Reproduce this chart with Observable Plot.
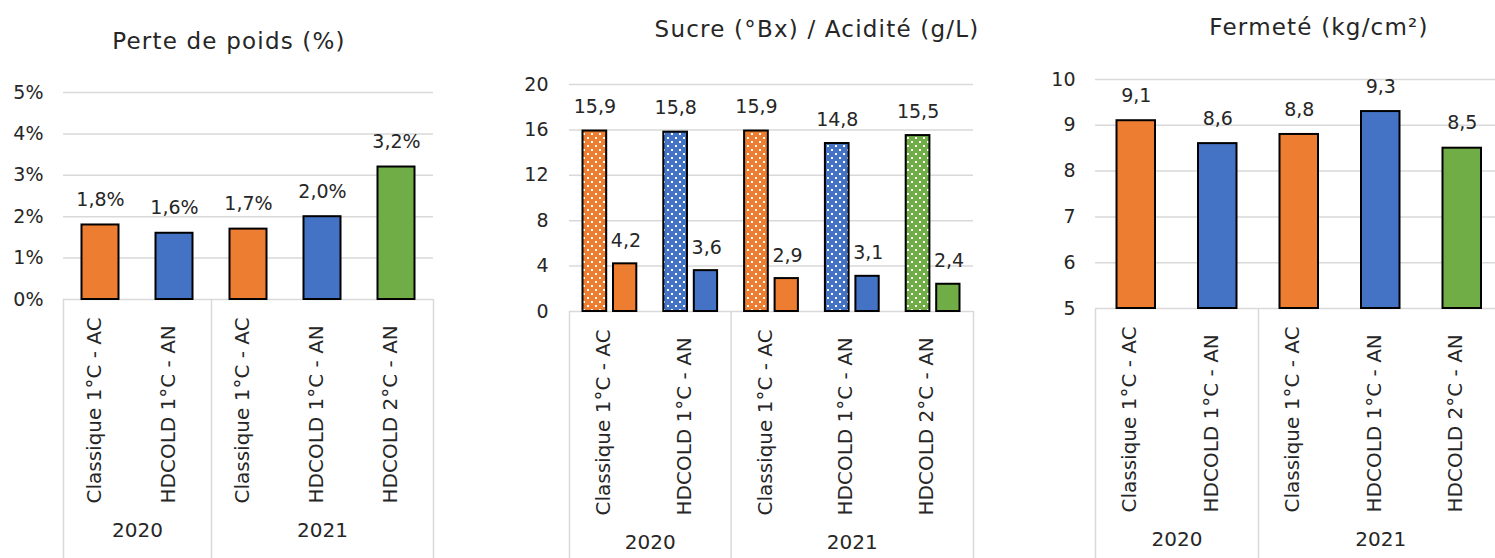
<!DOCTYPE html>
<html><head><meta charset="utf-8">
<script src="https://cdn.jsdelivr.net/npm/d3@7"></script>
<script src="https://cdn.jsdelivr.net/npm/@observablehq/plot@0.6"></script>
<style>
html,body{margin:0;padding:0;background:#fff;overflow:hidden;}
#root{position:relative;width:1495px;height:558px;overflow:hidden;font-family:"DejaVu Sans",sans-serif;color:#262626;}
.panel{position:absolute;top:0;}
.title{position:absolute;font-size:23px;line-height:1;letter-spacing:1.2px;white-space:nowrap;transform:translateX(-50%);}
</style></head><body><div id="root"></div>
<script>
// ---- data ----
const categories = ["Classique 1°C - AC","HDCOLD 1°C - AN","Classique 1°C - AC","HDCOLD 1°C - AN","HDCOLD 2°C - AN"];
const years = ["2020","2020","2021","2021","2021"];
const colors = ["#ED7D31","#4472C4","#ED7D31","#4472C4","#70AD47"];
const perteDePoids = [1.8, 1.6, 1.7, 2.0, 3.2];      // %
const sucre = [15.9, 15.8, 15.9, 14.8, 15.5];        // °Bx
const acidite = [4.2, 3.6, 2.9, 3.1, 2.4];           // g/L
const fermete = [9.1, 8.6, 8.8, 9.3, 8.5];           // kg/cm²
const ticksPerte = [0, 1, 2, 3, 4, 5];
const ticksSucre = [0, 4, 8, 12, 16, 20];
const ticksFermete = [5, 6, 7, 8, 9, 10];
const titles = ["Perte de poids (%)", "Sucre (°Bx) / Acidité (g/L)", "Fermeté (kg/cm²)"];

// ---- derived tables ----
const rows = categories.map((cat, i) => ({
  i, cat, year: years[i], color: colors[i],
  perte: perteDePoids[i], sucre: sucre[i], acid: acidite[i], ferm: fermete[i]
}));
const yearNames = [...new Set(years)];
const groups = yearNames.map(y => {
  const idx = rows.filter(r => r.year === y).map(r => r.i);
  return {year: y, first: d3.min(idx), last: d3.max(idx), center: (d3.min(idx) + d3.max(idx)) / 2};
});
const separators = [groups[0].first - 0.5, ...groups.map(g => g.last + 0.5)];
const comma = (v, d = 1) => v.toFixed(d).replace(".", ",");

const GRID = "#d9d9d9";
const FONT = "DejaVu Sans, sans-serif";

function xAxisMarks(plotH, marginBottom) {
  return [
    Plot.ruleX(separators, {x: d => d, insetTop: plotH, insetBottom: -marginBottom, stroke: GRID, strokeWidth: 1.5}),
    Plot.text(rows, {x: "i", text: "cat", frameAnchor: "bottom", rotate: -90, textAnchor: "start", dy: 204, fontSize: 20}),
    Plot.text(groups, {x: "center", text: "year", frameAnchor: "bottom", dy: 237, fontSize: 20})
  ];
}

function patternDefs() {
  const ns = "http://www.w3.org/2000/svg";
  const defs = document.createElementNS(ns, "defs");
  [...new Set(colors)].forEach(c => {
    const p = document.createElementNS(ns, "pattern");
    p.setAttribute("id", "dots" + c.slice(1));
    p.setAttribute("width", 8); p.setAttribute("height", 8);
    p.setAttribute("patternUnits", "userSpaceOnUse");
    const bg = document.createElementNS(ns, "rect");
    bg.setAttribute("width", 8); bg.setAttribute("height", 8); bg.setAttribute("fill", c);
    p.appendChild(bg);
    [[1,1],[5,5]].forEach(([x,y]) => {
      const r = document.createElementNS(ns, "rect");
      r.setAttribute("x", x); r.setAttribute("y", y);
      r.setAttribute("width", 2); r.setAttribute("height", 2); r.setAttribute("fill", "#fff");
      p.appendChild(r);
    });
    defs.appendChild(p);
  });
  return defs;
}

function place(svg, left) {
  svg.classList.add("panel");
  svg.style.left = left + "px";
  document.getElementById("root").appendChild(svg);
}

function addTitle(text, cx, top) {
  const d = document.createElement("div");
  d.className = "title";
  d.textContent = text;
  d.style.left = cx + "px";
  d.style.top = top + "px";
  document.getElementById("root").appendChild(d);
}

const H = 558;

// ---- Panel 1 : Perte de poids ----
{
  const m = {left: 63, right: 17, top: 92, bottom: 259};
  const plotH = H - m.top - m.bottom;
  const svg = Plot.plot({
    width: 450, height: H,
    marginLeft: m.left, marginRight: m.right, marginTop: m.top, marginBottom: m.bottom,
    style: {background: "transparent", fontFamily: FONT, fontSize: "19px", color: "#262626", overflow: "visible"},
    x: {type: "linear", domain: [-0.5, 4.5], axis: null},
    y: {domain: [0, 5], axis: null},
    color: {type: "identity"},
    marks: [
      Plot.ruleY(ticksPerte, {stroke: GRID, strokeWidth: 1.5}),
      Plot.axisY(ticksPerte, {tickSize: 0, tickPadding: 20, tickFormat: d => d + "%", fontSize: 19, label: null}),
      ...xAxisMarks(plotH, m.bottom),
      Plot.rectY(rows, {x1: d => d.i - 0.5, x2: d => d.i + 0.5, y1: () => 0, y2: "perte",
        insetLeft: 18.5, insetRight: 18.5, fill: "color", stroke: "black", strokeWidth: 2}),
      Plot.text(rows, {x: "i", y: "perte", text: d => comma(d.perte) + "%", dy: -25, fontSize: 19})
    ]
  });
  place(svg, 0);
  addTitle(titles[0], 229, 29.5);
}

// ---- Panel 2 : Sucre / Acidité ----
{
  const m = {left: 79, right: 17, top: 84, bottom: 247};
  const plotH = H - m.top - m.bottom;
  const svg = Plot.plot({
    width: 500, height: H,
    marginLeft: m.left, marginRight: m.right, marginTop: m.top, marginBottom: m.bottom,
    style: {background: "transparent", fontFamily: FONT, fontSize: "19px", color: "#262626", overflow: "visible"},
    x: {type: "linear", domain: [-0.5, 4.5], axis: null},
    y: {domain: [0, 20], axis: null},
    color: {type: "identity"},
    marks: [
      patternDefs,
      Plot.ruleY(ticksSucre, {stroke: GRID, strokeWidth: 1.5}),
      Plot.axisY(ticksSucre, {tickSize: 0, tickPadding: 21, fontSize: 19, label: null}),
      ...xAxisMarks(plotH, m.bottom),
      Plot.rectY(rows, {x1: d => d.i - 0.5, x2: d => d.i, y1: () => 0, y2: "sucre",
        insetLeft: 13.5, insetRight: 3.2, fill: d => `url(#dots${d.color.slice(1)})`, stroke: "black", strokeWidth: 2}),
      Plot.rectY(rows, {x1: d => d.i, x2: d => d.i + 0.5, y1: () => 0, y2: "acid",
        insetLeft: 3.6, insetRight: 13.5, fill: "color", stroke: "black", strokeWidth: 2}),
      Plot.text(rows, {x: "i", y: "sucre", text: d => comma(d.sucre), dx: -15, dy: -24, fontSize: 19}),
      Plot.text(rows, {x: "i", y: "acid", text: d => comma(d.acid), dx: 16, dy: -23, fontSize: 19})
    ]
  });
  place(svg, 490);
  addTitle(titles[1], 817, 17.5);
}

// ---- Panel 3 : Fermeté ----
{
  const m = {left: 85, right: 2.5, top: 79, bottom: 250};
  const plotH = H - m.top - m.bottom;
  const svg = Plot.plot({
    width: 495, height: H,
    marginLeft: m.left, marginRight: m.right, marginTop: m.top, marginBottom: m.bottom,
    style: {background: "transparent", fontFamily: FONT, fontSize: "19px", color: "#262626", overflow: "visible"},
    x: {type: "linear", domain: [-0.5, 4.5], axis: null},
    y: {domain: [5, 10], axis: null},
    color: {type: "identity"},
    marks: [
      Plot.ruleY(ticksFermete, {stroke: GRID, strokeWidth: 1.5}),
      Plot.axisY(ticksFermete, {tickSize: 0, tickPadding: 20, fontSize: 19, label: null}),
      ...xAxisMarks(plotH, m.bottom),
      Plot.rectY(rows, {x1: d => d.i - 0.5, x2: d => d.i + 0.5, y1: () => ticksFermete[0], y2: "ferm",
        insetLeft: 21.5, insetRight: 21.5, fill: "color", stroke: "black", strokeWidth: 2}),
      Plot.text(rows, {x: "i", y: "ferm", text: d => comma(d.ferm), dy: -25, fontSize: 19})
    ]
  });
  place(svg, 1010);
  addTitle(titles[2], 1319, 15.5);
}
</script></body></html>
